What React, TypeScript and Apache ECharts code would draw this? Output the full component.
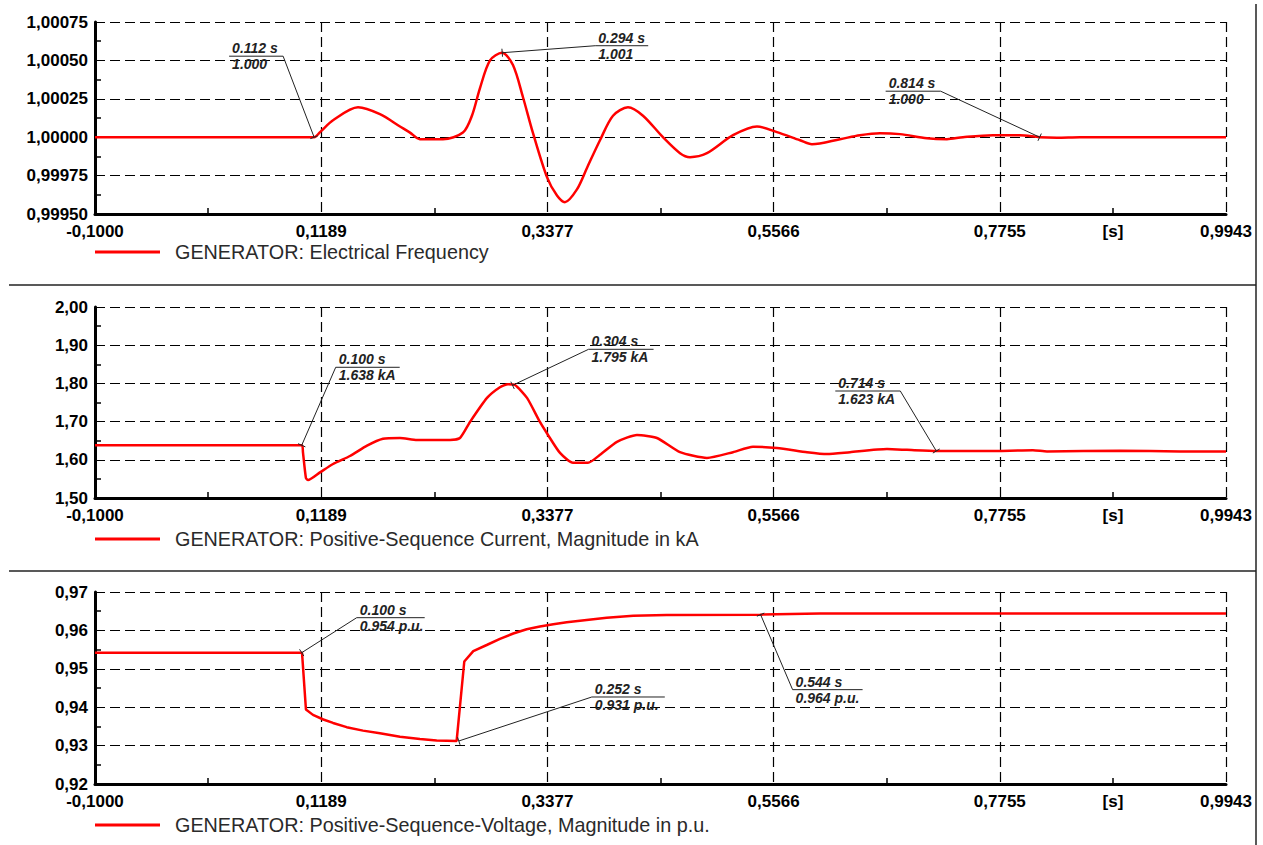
import React, { useEffect, useRef } from "react";
import * as echarts from "echarts";

// ---------- DATA ----------
const T0 = -0.1;
const T_END = 0.9943;
const xTickLabels = ["-0,1000", "0,1189", "0,3377", "0,5566", "0,7755", "0,9943"];
const xUnit = "[s]";

const seriesNames = [
  "GENERATOR: Electrical Frequency",
  "GENERATOR: Positive-Sequence Current, Magnitude in kA",
  "GENERATOR: Positive-Sequence-Voltage, Magnitude in p.u.",
];

// Electrical frequency (p.u.)
const freqTime = [-0.1, 0.112, 0.1177, 0.1303, 0.1545, 0.1757, 0.1951, 0.2048, 0.2144, 0.2367, 0.256, 0.2647, 0.2725, 0.2822, 0.2938, 0.3044, 0.3141, 0.3238, 0.3373, 0.347, 0.3547, 0.3663, 0.376, 0.3886, 0.4012, 0.4157, 0.4302, 0.4495, 0.466, 0.4757, 0.4921, 0.5173, 0.5405, 0.5598, 0.5821, 0.5937, 0.6208, 0.6401, 0.6595, 0.6788, 0.705, 0.7243, 0.7398, 0.7688, 0.7949, 0.8142, 0.8307, 0.8529, 0.9943];
const freqValue = [1.0, 1.0, 1.000033, 1.00011, 1.000195, 1.00015, 1.00007, 1.00003, 0.999987, 0.999987, 1.00003, 1.00014, 1.00032, 1.0005, 1.00055, 1.00047, 1.00026, 1.000026, 0.99974, 0.99962, 0.999577, 0.99966, 0.9998, 0.99998, 1.00014, 1.000195, 1.00014, 1.0, 0.999896, 0.99987, 0.999896, 1.000013, 1.00007, 1.000033, 0.99998, 0.999954, 0.999987, 1.000013, 1.000026, 1.00002, 0.999993, 0.999987, 1.0, 1.000013, 1.000013, 1.0, 0.999997, 1.0, 1.0];

// Positive-sequence current (kA)
const curTime = [-0.1, 0.1003, 0.1012, 0.1041, 0.1061, 0.1177, 0.1303, 0.1467, 0.1632, 0.1786, 0.1951, 0.2115, 0.2435, 0.2531, 0.2628, 0.2793, 0.2918, 0.2996, 0.3064, 0.318, 0.3305, 0.3383, 0.3499, 0.3625, 0.377, 0.3886, 0.405, 0.4244, 0.4437, 0.466, 0.4921, 0.5173, 0.5366, 0.5598, 0.5889, 0.6082, 0.6305, 0.6663, 0.6856, 0.7146, 0.763, 0.8075, 0.8211, 0.8917, 0.9498, 0.9943];
const curValue = [1.638, 1.638, 1.62, 1.552, 1.547, 1.567, 1.589, 1.61, 1.637, 1.655, 1.657, 1.652, 1.652, 1.657, 1.699, 1.762, 1.79, 1.798, 1.796, 1.762, 1.699, 1.665, 1.618, 1.592, 1.592, 1.613, 1.647, 1.665, 1.657, 1.62, 1.605, 1.62, 1.634, 1.631, 1.62, 1.615, 1.62, 1.628, 1.626, 1.623, 1.623, 1.625, 1.622, 1.624, 1.622, 1.622];

// Positive-sequence voltage (p.u.)
const volTime = [-0.1, 0.1003, 0.1041, 0.1109, 0.1209, 0.1303, 0.1435, 0.1593, 0.1757, 0.1951, 0.2144, 0.2306, 0.2499, 0.2573, 0.266, 0.279, 0.2918, 0.3047, 0.3177, 0.3305, 0.3434, 0.3564, 0.3757, 0.3951, 0.4208, 0.4531, 0.5434, 0.6015, 0.9943];
const volValue = [0.9542, 0.9542, 0.9394, 0.938, 0.9368, 0.9359, 0.9348, 0.9339, 0.9332, 0.9323, 0.9317, 0.9313, 0.9312, 0.9519, 0.9546, 0.9562, 0.9578, 0.9592, 0.9603, 0.961, 0.9616, 0.9621, 0.9627, 0.9633, 0.9638, 0.964, 0.9641, 0.9644, 0.9644];

// y axes
const yMins = [0.9995, 1.5, 0.92];
const yMaxs = [1.00075, 2.0, 0.97];
const yIntervals = [0.00025, 0.1, 0.01];
const yDecimals = [5, 2, 2];

// Annotations (anchor time/value on the curve, and the printed texts)
const freqNotes = [
  { t: 0.112, v: 1.0, time: "0.112 s", value: "1.000" },
  { t: 0.294, v: 1.00055, time: "0.294 s", value: "1.001" },
  { t: 0.814, v: 1.0, time: "0.814 s", value: "1.000" },
];
const curNotes = [
  { t: 0.1, v: 1.638, time: "0.100 s", value: "1.638 kA" },
  { t: 0.304, v: 1.795, time: "0.304 s", value: "1.795 kA" },
  { t: 0.714, v: 1.623, time: "0.714 s", value: "1.623 kA" },
];
const volNotes = [
  { t: 0.1, v: 0.9542, time: "0.100 s", value: "0.954 p.u." },
  { t: 0.252, v: 0.9312, time: "0.252 s", value: "0.931 p.u." },
  { t: 0.544, v: 0.9641, time: "0.544 s", value: "0.964 p.u." },
];

// ---------- LAYOUT ----------
const FONT = "'Liberation Sans', Arial, sans-serif";
const GRID_LEFT = 95;
const GRID_WIDTH = 1131;
const gridTops = [22, 307, 592];
const gridHeights = [192, 191, 192];
const legendTops = [242, 529, 815];
const calloutLayout = [
  [
    { dx: -31, dy: -81, len: 54, side: "right" },
    { dx: 93, dy: -7, len: 53, side: "left" },
    { dx: -99, dy: -46, len: 55, side: "right" },
  ],
  [
    { dx: 34, dy: -78, len: 64, side: "left" },
    { dx: 76, dy: -36, len: 65, side: "left" },
    { dx: -36, dy: -60, len: 65, side: "right" },
  ],
  [
    { dx: 55, dy: -35, len: 68, side: "left" },
    { dx: 133, dy: -44, len: 73, side: "left" },
    { dx: 32, dy: 75, len: 70, side: "left" },
  ],
];

export default function App() {
  const ref = useRef<HTMLDivElement>(null);

  useEffect(() => {
    document.body.style.margin = "0";
    const chart = echarts.init(ref.current as HTMLDivElement, null, { renderer: "svg" });
    const X_SPAN = T_END - T0;
    const X_INT = X_SPAN / 5;

    const times = [freqTime, curTime, volTime];
    const values = [freqValue, curValue, volValue];
    const notes = [freqNotes, curNotes, volNotes];
    const smooths = [0.3, 0.2, false];

    const grid = [0, 1, 2].map((i) => ({
      left: GRID_LEFT,
      top: gridTops[i],
      width: GRID_WIDTH,
      height: gridHeights[i],
      containLabel: false,
    }));

    const gridLine = { show: true, lineStyle: { type: [10, 5], color: "#000", width: 1.2 } };

    const xAxis = [0, 1, 2].map((i) => ({
      type: "value",
      gridIndex: i,
      min: 0,
      max: X_SPAN,
      interval: X_INT,
      axisLine: { show: true, onZero: false, lineStyle: { color: "#000", width: 3 } },
      axisTick: { show: false, inside: true },
      minorTick: { show: true, splitNumber: 2, length: 6, lineStyle: { color: "#000", width: 1.5 } },
      axisLabel: {
        formatter: (v: number) => xTickLabels[Math.round(v / X_INT)] ?? "",
        color: "#000",
        fontWeight: "bold",
        fontSize: 17,
        lineHeight: 17,
        fontFamily: FONT,
        margin: 9,
        showMinLabel: true,
        showMaxLabel: true,
        hideOverlap: false,
      },
      splitLine: gridLine,
    }));

    const yAxis = [0, 1, 2].map((i) => ({
      type: "value",
      gridIndex: i,
      min: yMins[i],
      max: yMaxs[i],
      interval: yIntervals[i],
      axisLine: { show: true, onZero: false, lineStyle: { color: "#000", width: 3 } },
      axisTick: { show: false, inside: true },
      minorTick: { show: true, splitNumber: 2, length: 6, lineStyle: { color: "#000", width: 1.5 } },
      axisLabel: {
        formatter: (v: number) => v.toFixed(yDecimals[i]).replace(".", ","),
        color: "#000",
        fontWeight: "bold",
        fontSize: 17,
        lineHeight: 17,
        fontFamily: FONT,
        margin: 7,
        showMinLabel: true,
        showMaxLabel: true,
        hideOverlap: false,
      },
      splitLine: gridLine,
    }));

    const series = [0, 1, 2].map((i) => ({
      type: "line",
      name: seriesNames[i],
      xAxisIndex: i,
      yAxisIndex: i,
      data: times[i].map((t, k) => [t - T0, values[i][k]]),
      showSymbol: false,
      symbol: "none",
      smooth: smooths[i],
      lineStyle: { color: "#ff0000", width: 2.5 },
      itemStyle: { color: "#ff0000" },
      z: 5,
    }));

    const legend = [0, 1, 2].map((i) => ({
      data: [seriesNames[i]],
      left: GRID_LEFT,
      top: legendTops[i],
      padding: 0,
      icon: "rect",
      itemWidth: 65,
      itemHeight: 3,
      selectedMode: false,
      textStyle: { fontSize: 19.8, color: "#2a2a2a", fontFamily: FONT, padding: [0, 0, 0, 10] },
    }));

    chart.setOption({
      animation: false,
      backgroundColor: "#fff",
      grid,
      xAxis,
      yAxis,
      series,
      legend,
    });

    const elements: any[] = [];
    // panel frame lines
    elements.push({ type: "line", silent: true, shape: { x1: 9, y1: 285, x2: 1256, y2: 285 }, style: { stroke: "#222", lineWidth: 1.5 } });
    elements.push({ type: "line", silent: true, shape: { x1: 9, y1: 571, x2: 1256, y2: 571 }, style: { stroke: "#222", lineWidth: 1.5 } });
    elements.push({ type: "line", silent: true, shape: { x1: 1256, y1: 4, x2: 1256, y2: 845 }, style: { stroke: "#222", lineWidth: 1.5 } });

    for (let i = 0; i < 3; i++) {
      // unit label
      const unitPos = chart.convertToPixel({ gridIndex: i }, [X_INT * 4.5, yMins[i]]) as number[];
      elements.push({
        type: "text",
        silent: true,
        x: unitPos[0],
        y: unitPos[1] + 9,
        style: { text: xUnit, font: `bold 17px ${FONT}`, fill: "#000", textAlign: "center", textVerticalAlign: "top" },
      });
      notes[i].forEach((n, k) => {
        const lay = calloutLayout[i][k];
        const p = chart.convertToPixel({ gridIndex: i }, [n.t - T0, n.v]) as number[];
        const cx = p[0] + lay.dx;
        const cy = p[1] + lay.dy;
        const ux0 = lay.side === "left" ? cx : cx - lay.len;
        const ux1 = ux0 + lay.len;
        elements.push({ type: "line", silent: true, shape: { x1: p[0], y1: p[1], x2: cx, y2: cy }, style: { stroke: "#222", lineWidth: 1 }, z: 10 });
        elements.push({ type: "line", silent: true, shape: { x1: ux0, y1: cy, x2: ux1, y2: cy }, style: { stroke: "#222", lineWidth: 1 }, z: 10 });
        // small tick across leader at anchor
        const len = Math.hypot(cx - p[0], cy - p[1]) || 1;
        const nx = -(cy - p[1]) / len;
        const ny = (cx - p[0]) / len;
        elements.push({ type: "line", silent: true, shape: { x1: p[0] - nx * 4, y1: p[1] - ny * 4, x2: p[0] + nx * 4, y2: p[1] + ny * 4 }, style: { stroke: "#222", lineWidth: 1 }, z: 10 });
        elements.push({
          type: "text",
          silent: true,
          x: ux0 + 3,
          y: cy - 1,
          z: 11,
          style: { text: n.time, font: `italic bold 14px ${FONT}`, fill: "#222", textAlign: "left", textVerticalAlign: "bottom" },
        });
        elements.push({
          type: "text",
          silent: true,
          x: ux0 + 3,
          y: cy + 1,
          z: 11,
          style: { text: n.value, font: `italic bold 14px ${FONT}`, fill: "#222", textAlign: "left", textVerticalAlign: "top" },
        });
      });
    }

    chart.setOption({ graphic: elements });

    return () => chart.dispose();
  }, []);

  return (
    <div
      ref={ref}
      style={{ position: "absolute", left: 0, top: 0, width: 1263, height: 845, background: "#fff" }}
    />
  );
}
